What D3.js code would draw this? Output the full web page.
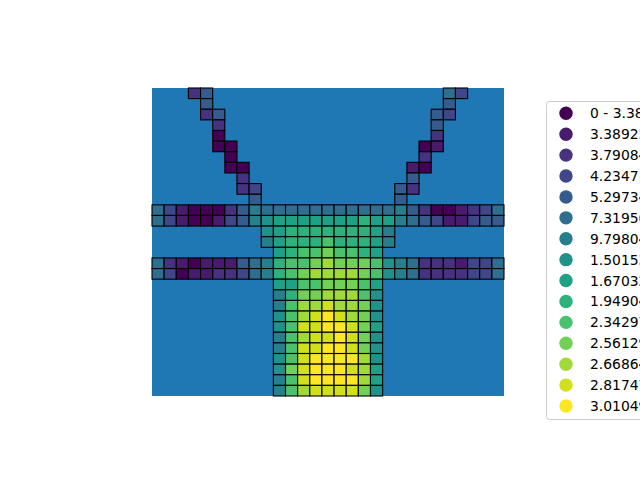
<!DOCTYPE html>
<html><head><meta charset="utf-8">
<script src="https://cdn.jsdelivr.net/npm/d3@7"></script>
<style>html,body{margin:0;padding:0;background:#fff;} svg{display:block;}</style>
</head><body><svg id="chart" width="640" height="480"></svg>
<script>
// Class index per grid cell (base-15 digit, '.' = no cell), rows top to bottom
const gridRows = [
  "...24...................53...",
  "....4...................4....",
  "....24.................43....",
  ".....2.................4.....",
  ".....0.................2.....",
  ".....00...............01.....",
  "......0...............2......",
  "......00.............10......",
  ".......2.............4.......",
  ".......23...........42.......",
  "........4...........4........",
  "53100024655555555555642001235",
  "53100134678888888988654311344",
  ".........78999999986.........",
  ".........68999a99986.........",
  "..........89aabaa98..........",
  "52101114569aabcbbba7652221335",
  "53011223569abccccba7652222335",
  "..........88aabbba8..........",
  "..........69bbccca7..........",
  "..........6accdccb7..........",
  "..........7acdedcb7..........",
  "..........7addeedb8..........",
  "..........6acddedb7..........",
  "..........6addeedb7..........",
  "..........7adeeeec7..........",
  "..........7bdeeedc8..........",
  "..........6adeeeec8..........",
  "..........6acddddb7.........."
];
const classLabels = [
  "0 - 3.38925e-05",
  "3.38925e-05 - 3.79084e-05",
  "3.79084e-05 - 4.23471e-05",
  "4.23471e-05 - 5.29734e-05",
  "5.29734e-05 - 7.31956e-05",
  "7.31956e-05 - 9.79804e-05",
  "9.79804e-05 - 1.50153e-04",
  "1.50153e-04 - 1.67032e-04",
  "1.67032e-04 - 1.94904e-04",
  "1.94904e-04 - 2.34297e-04",
  "2.34297e-04 - 2.56129e-04",
  "2.56129e-04 - 2.66864e-04",
  "2.66864e-04 - 2.81747e-04",
  "2.81747e-04 - 3.01049e-04",
  "3.01049e-04 - 3.34971e-04"
];
const nClasses = classLabels.length;
const nRows = gridRows.length;
const nCols = gridRows[0].length;

const cells = [];
gridRows.forEach((row, r) => {
  for (let c = 0; c < row.length; c++) {
    const ch = row[c];
    if (ch !== ".") cells.push({ row: r, col: c, cls: parseInt(ch, 15) });
  }
});

const svg = d3.select("#chart");
const x = d3.scaleBand().domain(d3.range(nCols)).range([152, 504]).padding(0);
const y = d3.scaleBand().domain(d3.range(nRows)).range([88, 396]).padding(0);
const color = d3.scaleSequential(d3.interpolateViridis).domain([0, nClasses - 1]);

// base layer
svg.append("rect")
  .attr("x", x.range()[0]).attr("y", y.range()[0])
  .attr("width", x.range()[1] - x.range()[0])
  .attr("height", y.range()[1] - y.range()[0])
  .attr("fill", "#1f77b4");

svg.append("g").selectAll("rect").data(cells).join("rect")
  .attr("x", d => x(d.col)).attr("y", d => y(d.row))
  .attr("width", x.bandwidth()).attr("height", y.bandwidth())
  .attr("fill", d => color(d.cls))
  .attr("stroke", "#000").attr("stroke-width", 1.1);

// legend
const lg = svg.append("g");
const ly = d3.scalePoint().domain(d3.range(nClasses)).range([113.3, 406]);
lg.append("rect")
  .attr("x", 546.5).attr("y", 101.5).attr("width", 140).attr("height", 318)
  .attr("rx", 3).attr("fill", "#fff").attr("fill-opacity", 0.8)
  .attr("stroke", "#cccccc").attr("stroke-width", 1);
lg.selectAll("circle").data(d3.range(nClasses)).join("circle")
  .attr("cx", 566).attr("cy", d => ly(d)).attr("r", 6.7)
  .attr("fill", d => color(d));
lg.selectAll("text").data(d3.range(nClasses)).join("text")
  .attr("x", 590).attr("y", d => ly(d)).attr("dy", "0.36em")
  .attr("font-family", "DejaVu Sans").attr("font-size", "13.9px")
  .attr("fill", "#000")
  .text(d => classLabels[d]);
</script>
</body></html>
